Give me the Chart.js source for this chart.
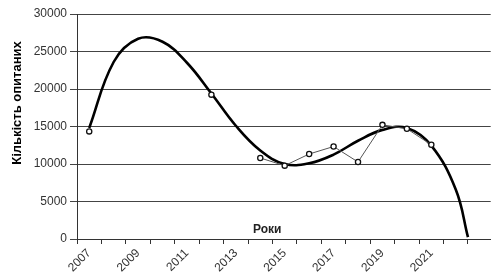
<!DOCTYPE html>
<html>
<head>
<meta charset="utf-8">
<script src="https://cdn.jsdelivr.net/npm/chart.js@4/dist/chart.umd.min.js"></script>
<style>
html,body{margin:0;padding:0;background:#fff;}
canvas{display:block;}
</style>
</head>
<body>
<canvas id="c" width="496" height="277"></canvas>
<script>
// Observed survey counts (null = no survey that year)
const years = [2007, 2008, 2009, 2010, 2011, 2012, 2013, 2014, 2015, 2016, 2017, 2018, 2019, 2020, 2021];
const respondents = [14350, null, null, null, null, 19250, null, 10800, 9780, 11330, 12330, 10270, 15220, 14700, 12560];
// Trend line values
const trendYears = [2007, 2008, 2009, 2010, 2011, 2012, 2013, 2014, 2015, 2016, 2017, 2018, 2019, 2020, 2021, 2022, 2022.5];
const trendValues = [14800, 23600, 26700, 26300, 23500, 19400, 15100, 11800, 10000, 10100, 11250, 13100, 14550, 14800, 12450, 6600, 250];
// Axis labels
const xLabelYears = [2007, 2009, 2011, 2013, 2015, 2017, 2019, 2021];
const yTicks = [0, 5000, 10000, 15000, 20000, 25000, 30000];
const yTitle = 'Кількість опитаних';
const xTitle = 'Роки';

const font = 'Liberation Sans, Arial, sans-serif';
const obsData = years.map((y, i) => ({x: y, y: respondents[i]}));
const trendData = trendYears.map((y, i) => ({x: y, y: trendValues[i]}));
const categoryYears = [];
for (let y = years[0]; y <= 2022; y++) categoryYears.push(y);

new Chart(document.getElementById('c'), {
  type: 'line',
  data: {
    datasets: [
      {
        data: obsData,
        borderColor: '#555',
        borderWidth: 1,
        pointRadius: 2.6,
        pointBackgroundColor: '#fff',
        pointBorderColor: '#111',
        pointBorderWidth: 1.3,
        spanGaps: false,
        tension: 0
      },
      {
        data: trendData,
        borderColor: '#000',
        borderWidth: 2.6,
        pointRadius: 0,
        tension: 0.4,
        fill: false
      }
    ]
  },
  options: {
    responsive: false,
    animation: false,
    devicePixelRatio: 1,
    layout: {padding: {top: 14, right: 0, bottom: 0, left: 0}},
    plugins: {legend: {display: false}, tooltip: {enabled: false}},
    scales: {
      x: {
        type: 'linear',
        min: 2006.5,
        max: 2023.43,
        afterBuildTicks: (scale) => { scale.ticks = categoryYears.map(v => ({value: v})); },
        afterFit: (scale) => { scale.height = 38; },
        grid: {offset: true, drawOnChartArea: false, drawTicks: true, tickLength: 5, color: '#333'},
        border: {color: '#333', width: 1},
        ticks: {
          autoSkip: false,
          maxRotation: 45,
          minRotation: 45,
          padding: 2,
          color: '#333',
          font: {family: font, size: 12},
          callback: (v) => xLabelYears.includes(v) ? String(v) : ''
        },
        title: {
          display: true,
          text: xTitle + '          ',
          color: '#222',
          font: {family: font, size: 12, weight: 'bold'},
          padding: {top: 0, bottom: 40}
        }
      },
      y: {
        min: 0,
        max: 30000,
        afterBuildTicks: (scale) => { scale.ticks = yTicks.map(v => ({value: v})); },
        afterFit: (scale) => { scale.width = 77; },
        grid: {color: '#444', lineWidth: 1, tickLength: 7},
        border: {color: '#333', width: 1},
        ticks: {
          padding: 3,
          color: '#333',
          font: {family: font, size: 12},
          callback: (v) => String(v)
        },
        title: {
          display: true,
          text: '             ' + yTitle,
          color: '#000',
          font: {family: font, size: 13, weight: 'bold'},
          padding: {top: 10, bottom: 0}
        }
      }
    }
  }
});
</script>
</body>
</html>
